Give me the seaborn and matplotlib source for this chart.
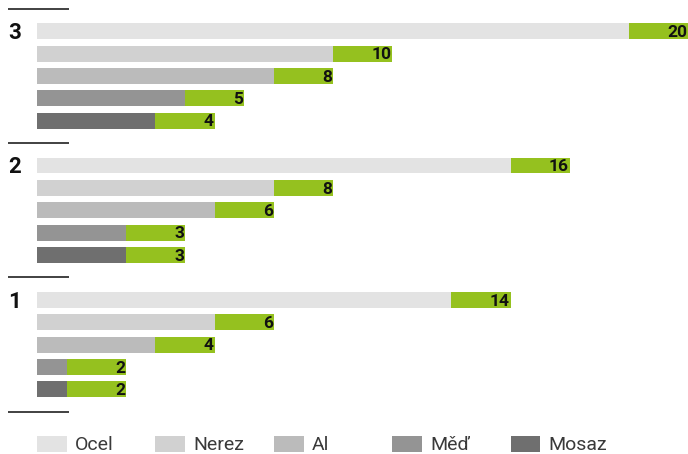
import matplotlib
matplotlib.use("Agg")
import matplotlib.pyplot as plt
import seaborn as sns
import pandas as pd
from matplotlib.patches import Rectangle

# ---- data ----
groups = ["3", "2", "1"]
materials = ["Ocel", "Nerez", "Al", "Měď", "Mosaz"]
grey_3 = [20, 10, 8, 5, 4]
grey_2 = [16, 8, 6, 3, 3]
grey_1 = [14, 6, 4, 1, 1]
green_3 = [2, 2, 2, 2, 2]
green_2 = [2, 2, 2, 2, 2]
green_1 = [2, 2, 2, 2, 2]
labels_3 = [20, 10, 8, 5, 4]
labels_2 = [16, 8, 6, 3, 3]
labels_1 = [14, 6, 4, 2, 2]

colors = {"Ocel": "#e3e3e3", "Nerez": "#d1d1d1", "Al": "#bbbbbb",
          "Měď": "#949494", "Mosaz": "#6f6f6f"}
green = "#95c11f"

rows = []
for gi, (g, greys, greens, labs) in enumerate(zip(
        groups, [grey_3, grey_2, grey_1], [green_3, green_2, green_1],
        [labels_3, labels_2, labels_1])):
    for mi, m in enumerate(materials):
        rows.append(dict(group=g, material=m, pos=gi * 6 + 1 + mi,
                         grey=greys[mi], total=greys[mi] + greens[mi],
                         label=labs[mi]))
df = pd.DataFrame(rows)

sns.set_theme(style="white")
plt.rcParams["font.family"] = ["Roboto", "DejaVu Sans"]

fig = plt.figure(figsize=(6.88, 4.54), dpi=100)
ax = fig.add_axes([0, 0, 1, 1])

bh = 16 / 22.4
sns.barplot(data=df, x="total", y="pos", orient="h", native_scale=True,
            color=green, saturation=1, width=bh, errorbar=None, ax=ax,
            linewidth=0)
sns.barplot(data=df, x="grey", y="pos", hue="material", palette=colors,
            orient="h", native_scale=True, saturation=1, width=bh,
            errorbar=None, dodge=False, legend=False, ax=ax, linewidth=0)

for _, r in df.iterrows():
    ax.text(r.total - 0.03, r.pos + 0.05, str(r.label), ha="right",
            va="center", fontsize=12.5, fontweight="bold", color="#111111")

# separators and group labels
for k in range(4):
    ax.plot([-0.98, 1.08], [k * 6, k * 6], color="#333333", lw=1.3,
            solid_capstyle="butt")
for gi, g in enumerate(groups):
    ax.text(-0.98, gi * 6 + 1 + 0.08, g, ha="left", va="center",
            fontsize=16, fontweight="bold", color="#111111")

# legend
for i, m in enumerate(materials):
    x0 = i * 4
    ax.add_patch(Rectangle((x0, 19.43 - bh / 2), 1.01, bh,
                           facecolor=colors[m], edgecolor="none"))
    ax.text(x0 + 1.28, 19.43 + 0.05, m, ha="left", va="center",
            fontsize=14, fontweight="normal", color="#3a3a3a")

ax.set_xlim(-37 / 29.6, 651 / 29.6)
ax.set_ylim((454 - 8.7) / 22.4, -8.7 / 22.4)
ax.axis("off")

fig.savefig("out.png", dpi=100)
